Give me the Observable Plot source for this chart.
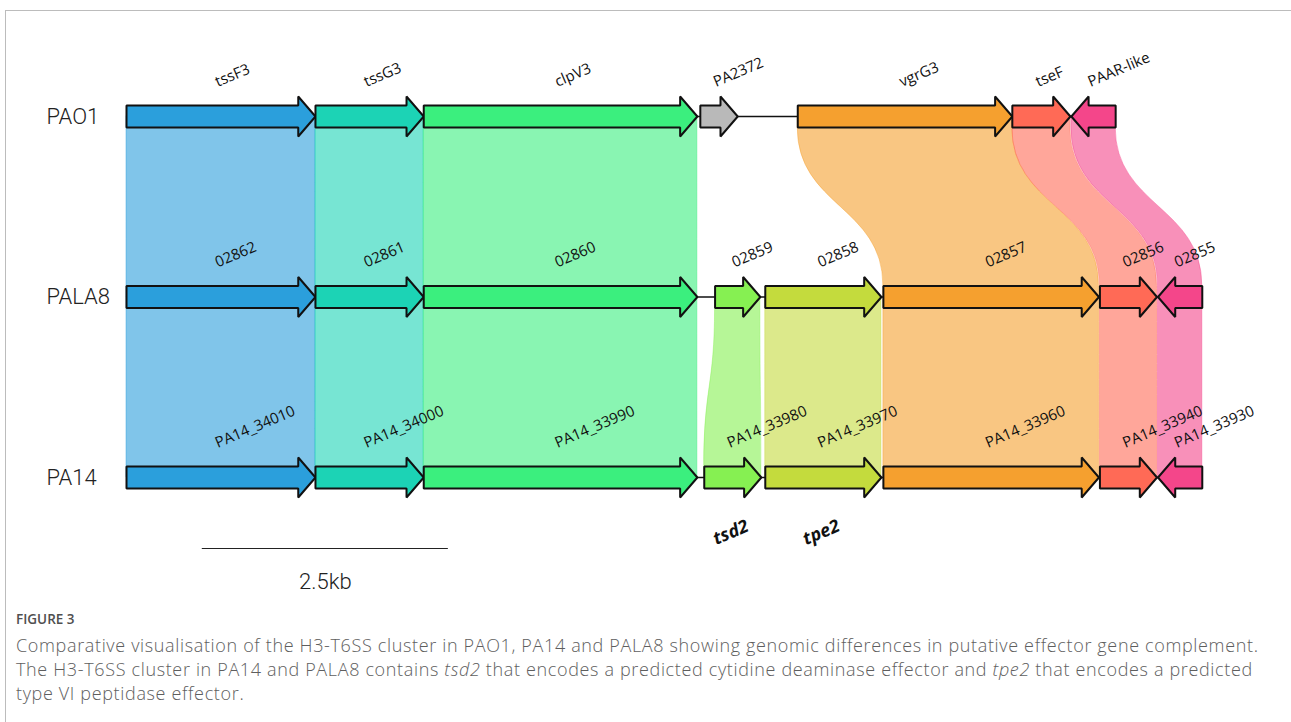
<!DOCTYPE html>
<html>
<head>
<meta charset="utf-8">
<script src="https://cdn.jsdelivr.net/npm/d3@7"></script>
<script src="https://cdn.jsdelivr.net/npm/@observablehq/plot@0.6"></script>
<style>
  body { margin: 0; background: #fff; }
  #fig { position: relative; width: 1291px; height: 722px; overflow: hidden; font-family: Roboto, "Open Sans", sans-serif; }
  #frame { position: absolute; left: 5px; top: 10px; right: -4px; bottom: -4px; border-top: 1px solid #bcbcbc; border-left: 1px solid #bcbcbc; }
  #chart { position: absolute; left: 0; top: 0; }
  #caption { position: absolute; left: 16px; top: 609px; width: 1274px; color: #5e5e5e; font-family: "Open Sans", sans-serif; }
  #caption .fig-no { font-size: 13.5px; line-height: 20px; font-weight: 600; color: #4f4f4f; }
  #caption .text { font-size: 18px; line-height: 24px; margin-top: 4px; font-weight: 300; letter-spacing: 0.65px; white-space: nowrap; }
</style>
</head>
<body>
<div id="fig">
  <div id="frame"></div>
  <div id="chart"></div>
  <div id="caption">
    <div class="fig-no">FIGURE 3</div>
    <div class="text">Comparative visualisation of the H3-T6SS cluster in PAO1, PA14 and PALA8 showing genomic differences in putative effector gene complement.<br>The H3-T6SS cluster in PA14 and PALA8 contains <i>tsd2</i> that encodes a predicted cytidine deaminase effector and <i>tpe2</i> that encodes a predicted<br>type VI peptidase effector.</div>
  </div>
</div>
<script>
// Genomes (one track each, top to bottom)
const genomes = ["PAO1", "PALA8", "PA14"];

// PAO1 H3-T6SS genes (bp from the start of tssF3)
const pao1Names  = ["tssF3", "tssG3", "clpV3", "PA2372", "vgrG3", "tseF", "PAAR-like"];
const pao1Start  = [0, 1920, 3020, 5830, 6820, 9000, 9600];
const pao1End    = [1920, 3020, 5800, 6210, 9000, 9590, 10050];
const pao1Strand = [1, 1, 1, 1, 1, 1, -1];
const pao1Group  = ["tssF3", "tssG3", "clpV3", "PA2372", "vgrG3", "tseF", "PAAR"];

// PALA8 genes
const pala8Names  = ["02862", "02861", "02860", "02859", "02858", "02857", "02856", "02855"];
const pala8Start  = [0, 1920, 3020, 5980, 6490, 7690, 9890, 10480];
const pala8End    = [1920, 3020, 5800, 6440, 7670, 9880, 10470, 10930];
const pala8Strand = [1, 1, 1, 1, 1, 1, 1, -1];
const pala8Group  = ["tssF3", "tssG3", "clpV3", "tsd2", "tpe2", "vgrG3", "tseF", "PAAR"];

// PA14 genes
const pa14Names  = ["PA14_34010", "PA14_34000", "PA14_33990", "PA14_33980", "PA14_33970", "PA14_33960", "PA14_33940", "PA14_33930"];
const pa14Start  = [0, 1920, 3020, 5870, 6490, 7690, 9890, 10480];
const pa14End    = [1920, 3020, 5800, 6450, 7670, 9880, 10470, 10930];
const pa14Strand = [1, 1, 1, 1, 1, 1, 1, -1];
const pa14Group  = ["tssF3", "tssG3", "clpV3", "tsd2", "tpe2", "vgrG3", "tseF", "PAAR"];

// Homolog groups and their colours
const groupNames  = ["tssF3", "tssG3", "clpV3", "PA2372", "tsd2", "tpe2", "vgrG3", "tseF", "PAAR"];
const groupColors = ["#2b9fdc", "#1cd3b5", "#3bef7e", "#b9b9b9", "#86f052", "#c4db3d", "#f5a02f", "#ff6a56", "#f4468a"];

// Putative effectors highlighted under PA14
const effectorNames = ["tsd2", "tpe2"];

// Scale bar
const scaleBarStart = 770;
const scaleBarLength = 2500;
const scaleBarLabel = "2.5kb";

// ---- build tables ----
const tracks = [
  [pao1Names, pao1Start, pao1End, pao1Strand, pao1Group],
  [pala8Names, pala8Start, pala8End, pala8Strand, pala8Group],
  [pa14Names, pa14Start, pa14End, pa14Strand, pa14Group]
];
const genes = [];
tracks.forEach(([names, starts, ends, strands, groups], row) => {
  names.forEach((name, i) => genes.push({
    id: `${row}-${i}`, row, name, start: starts[i], end: ends[i], strand: strands[i], group: groups[i]
  }));
});

const rowTop = 116, rowBottom = 477;
const rowStep = (rowBottom - rowTop) / (genomes.length - 1);
const bodyHalf = 11 / rowStep;   // arrow body half-height, in track units
const headHalf = 20 / rowStep;   // arrow head half-height
const headLen = 175;             // arrow head length, bp

// arrow outlines
const vertices = [];
for (const g of genes) {
  const tip = g.strand > 0 ? g.end : g.start;
  const base = g.strand > 0 ? g.start : g.end;
  const neck = tip - g.strand * headLen;
  const r = g.row;
  [[base, r - bodyHalf], [neck, r - bodyHalf], [neck, r - headHalf], [tip, r],
   [neck, r + headHalf], [neck, r + bodyHalf], [base, r + bodyHalf]]
    .forEach(([x, y]) => vertices.push({id: g.id, group: g.group, x, y}));
}

// homology links between neighbouring tracks: straight under the arrows,
// curved between the arrow bodies
const links = [];
for (let r = 0; r < genomes.length - 1; r++) {
  const a = genes.filter(g => g.row === r), b = genes.filter(g => g.row === r + 1);
  for (const ga of a) {
    const gb = b.find(g => g.group === ga.group);
    if (!gb) continue;
    const id = `${ga.id}>${gb.id}`;
    links.push({id, group: ga.group, y: r, x1: ga.start, x2: ga.end});
    links.push({id, group: ga.group, y: r + bodyHalf, x1: ga.start, x2: ga.end});
    links.push({id, group: ga.group, y: r + 1 - bodyHalf, x1: gb.start, x2: gb.end});
    links.push({id, group: ga.group, y: r + 1, x1: gb.start, x2: gb.end});
  }
}

// backbone line for each track
const backbones = genomes.map((name, row) => {
  const gs = genes.filter(g => g.row === row);
  return {row, x1: d3.min(gs, g => g.start), x2: d3.max(gs, g => g.end)};
});

const effectors = genes.filter(g => g.row === 2 && effectorNames.includes(g.group));

const xMax = d3.max(genes, g => g.end);
const pxPerBp = 1 / 10.16;

const chart = Plot.plot({
  width: 1291,
  height: 600,
  margin: 0,
  x: {domain: [0, xMax], range: [126, 126 + xMax * pxPerBp], axis: null},
  y: {domain: [0, genomes.length - 1], range: [rowTop, rowBottom], axis: null},
  color: {type: "ordinal", domain: groupNames, range: groupColors},
  style: {fontFamily: "Roboto, 'Open Sans', sans-serif", color: "#111", background: "transparent"},
  marks: [
    Plot.areaX(links, {
      y: "y", x1: "x1", x2: "x2", z: "id", curve: "bump-y",
      fill: "group", fillOpacity: 0.6, stroke: "group", strokeOpacity: 0.55, strokeWidth: 0.8
    }),
    Plot.ruleY(backbones, {y: "row", x1: "x1", x2: "x2", stroke: "#111", strokeWidth: 1.6}),
    Plot.line(vertices, {
      x: "x", y: "y", z: "id", curve: "linear-closed",
      fill: "group", stroke: "#111", strokeWidth: 2, strokeLinejoin: "miter"
    }),
    Plot.text(genes, {
      x: g => (g.start + g.end) / 2, y: "row", text: "name",
      dx: -5, dy: -34, rotate: -23, textAnchor: "start",
      fontSize: 15, fontFamily: "'Open Sans', sans-serif", fill: "#111"
    }),
    Plot.text(genomes, {
      y: (d, i) => i, text: d => d, frameAnchor: "left", dx: 46, textAnchor: "start",
      fontSize: 22, fontWeight: 300, fill: "#222"
    }),
    Plot.text(effectors, {
      x: g => (g.start + g.end) / 2, y: "row", text: "group",
      dx: -2, dy: 55, rotate: -23, fontSize: 18, fontWeight: "bold", fontStyle: "italic",
      fontFamily: "'Open Sans', sans-serif", fill: "#111"
    }),
    Plot.ruleY([genomes.length - 1], {
      x1: scaleBarStart, x2: scaleBarStart + scaleBarLength, dy: 71, stroke: "#222", strokeWidth: 1.2
    }),
    Plot.text([scaleBarLabel], {
      x: scaleBarStart + scaleBarLength / 2, y: genomes.length - 1, dy: 104, text: d => d,
      fontSize: 22, fontWeight: 300, fill: "#222"
    })
  ]
});
document.getElementById("chart").appendChild(chart);
</script>
</body>
</html>
